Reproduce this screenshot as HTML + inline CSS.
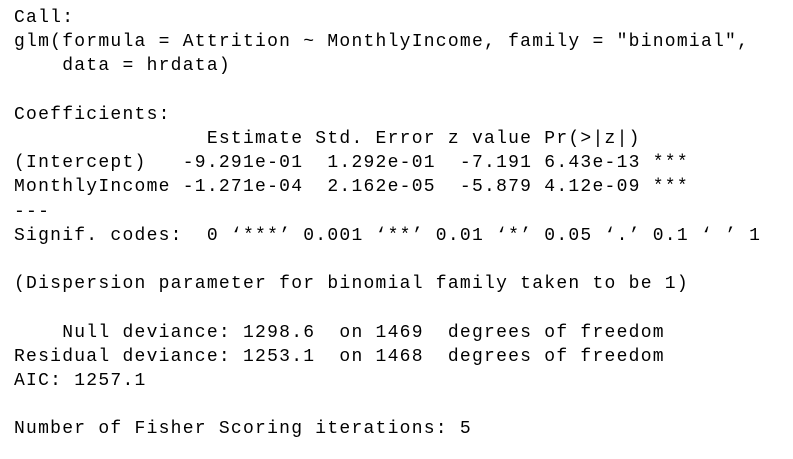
<!DOCTYPE html>
<html><head><meta charset="utf-8"><style>
html,body{margin:0;padding:0;background:#fff;width:793px;height:459px;overflow:hidden}
pre{position:absolute;left:14px;top:6px;margin:0;font-family:"Liberation Mono",monospace;font-size:18px;letter-spacing:1.25px;line-height:24.2px;color:#000}
</style></head><body>
<pre>Call:
glm(formula = Attrition ~ MonthlyIncome, family = "binomial",
    data = hrdata)

Coefficients:
                Estimate Std. Error z value Pr(&gt;|z|)
(Intercept)   -9.291e-01  1.292e-01  -7.191 6.43e-13 ***
MonthlyIncome -1.271e-04  2.162e-05  -5.879 4.12e-09 ***
---
Signif. codes:  0 ‘***’ 0.001 ‘**’ 0.01 ‘*’ 0.05 ‘.’ 0.1 ‘ ’ 1

(Dispersion parameter for binomial family taken to be 1)

    Null deviance: 1298.6  on 1469  degrees of freedom
Residual deviance: 1253.1  on 1468  degrees of freedom
AIC: 1257.1

Number of Fisher Scoring iterations: 5</pre>
</body></html>
